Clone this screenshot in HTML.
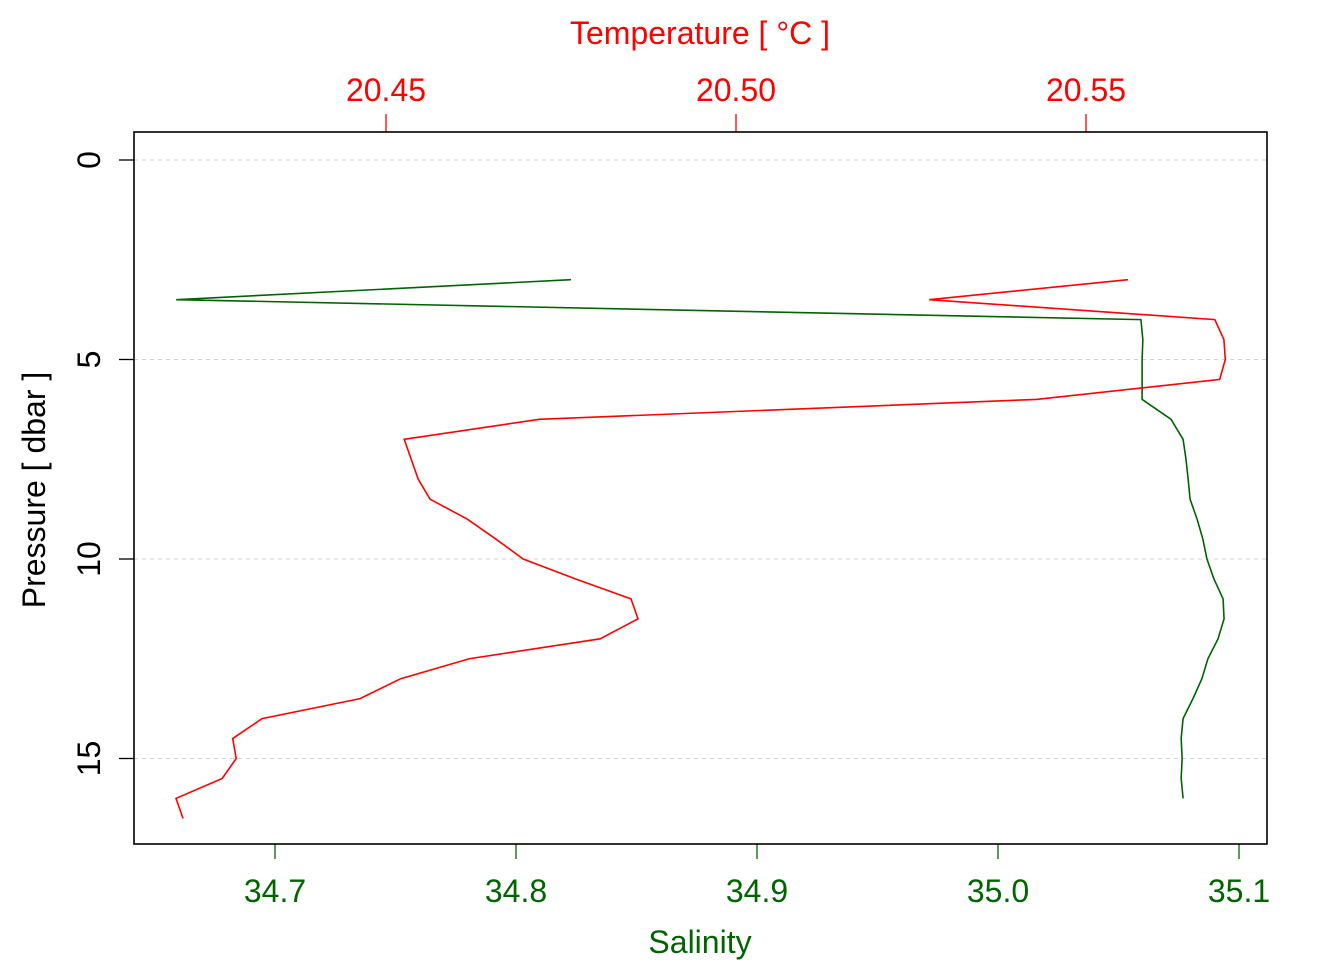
<!DOCTYPE html>
<html><head><meta charset="utf-8">
<style>
body{margin:0;background:#fff;}
svg{display:block;font-family:"Liberation Sans",sans-serif;}
</style></head>
<body>
<svg id="chart" width="1344" height="960" xmlns="http://www.w3.org/2000/svg"></svg>
<script>
const salPressure=[3,3.5,4,4.5,5,5.5,6,6.5,7,7.5,8,8.5,9,9.5,10,10.5,11,11.5,12,12.5,13,13.5,14,14.5,15,15.5,16];
const salinity=[34.8228,34.659,35.0593,35.0601,35.0598,35.0598,35.0598,35.0718,35.0768,35.078,35.0789,35.0797,35.0826,35.085,35.0867,35.0896,35.0934,35.0938,35.0913,35.0871,35.0846,35.0809,35.0768,35.076,35.0764,35.076,35.0768];
const tempPressure=[3,3.5,4,4.5,5,5.5,6,6.5,7,7.5,8,8.5,9,9.5,10,10.5,11,11.5,12,12.5,13,13.5,14,14.5,15,15.5,16,16.5];
const temperature=[20.556,20.5276,20.5684,20.5697,20.5699,20.5691,20.5429,20.4719,20.4526,20.4536,20.4546,20.4563,20.4616,20.4657,20.4696,20.4771,20.485,20.486,20.4806,20.4619,20.4521,20.4463,20.4323,20.4281,20.4286,20.4266,20.42,20.421];
const salTicks=[34.7,34.8,34.9,35.0,35.1];
const tempTicks=[20.45,20.50,20.55];
const pTicks=[0,5,10,15];

const NS="http://www.w3.org/2000/svg";
const svg=document.getElementById('chart');
const yP=p=>160+p*39.9;
const xS=s=>275+(s-34.7)*2410;
const xT=t=>386+(t-20.45)*7000;
function el(tag,attrs,txt){const e=document.createElementNS(NS,tag);for(const k in attrs)e.setAttribute(k,attrs[k]);if(txt!==undefined)e.textContent=txt;svg.appendChild(e);return e;}

pTicks.forEach(p=>{
  const g=el('line',{x1:134,x2:1267,y1:yP(p),y2:yP(p),stroke:'#d3d3d3','stroke-dasharray':'4,4','stroke-width':1});
  
  
  const t=el('line',{x1:134,x2:119,y1:yP(p),y2:yP(p),stroke:'#000','stroke-width':1.3});
  
  
  const lx=100,ly=yP(p);
  const l=el('text',{x:lx,y:ly,'font-size':32,'text-anchor':'middle',transform:`rotate(-90 ${lx} ${ly})`,fill:'#000'},String(p));
  
  
});
salTicks.forEach(s=>{
  const t=el('line',{x1:xS(s),x2:xS(s),y1:844,y2:859,stroke:'#006400','stroke-width':1.3});
  
  
  const l=el('text',{x:xS(s),y:902,'font-size':32,'text-anchor':'middle',fill:'#006400'},s.toFixed(1));
  
  
});
tempTicks.forEach(t0=>{
  const t=el('line',{x1:xT(t0),x2:xT(t0),y1:132,y2:114,stroke:'#ff0000','stroke-width':1.3});
  
  
  const l=el('text',{x:xT(t0),y:101,'font-size':32,'text-anchor':'middle',fill:'#ff0000'},t0.toFixed(2));
  
  
});
const sal=el('polyline',{points:salinity.map((s,i)=>xS(s)+','+yP(salPressure[i])).join(' '),fill:'none',stroke:'#006400','stroke-width':1.6});


const tem=el('polyline',{points:temperature.map((t,i)=>xT(t)+','+yP(tempPressure[i])).join(' '),fill:'none',stroke:'#ff0000','stroke-width':1.6});


const box=el('rect',{x:134,y:132,width:1133,height:712,fill:'none',stroke:'#000','stroke-width':1.6});


const xt=el('text',{x:700,y:953,'font-size':32,'text-anchor':'middle',fill:'#006400'},'Salinity');


const tt=el('text',{x:700,y:44,'font-size':32,'text-anchor':'middle',fill:'#ff0000'},'Temperature [ °C ]');


const yt=el('text',{x:45,y:490,'font-size':32,'text-anchor':'middle',fill:'#000',transform:'rotate(-90 45 490)'},'Pressure [ dbar ]');


</script>
</body></html>
